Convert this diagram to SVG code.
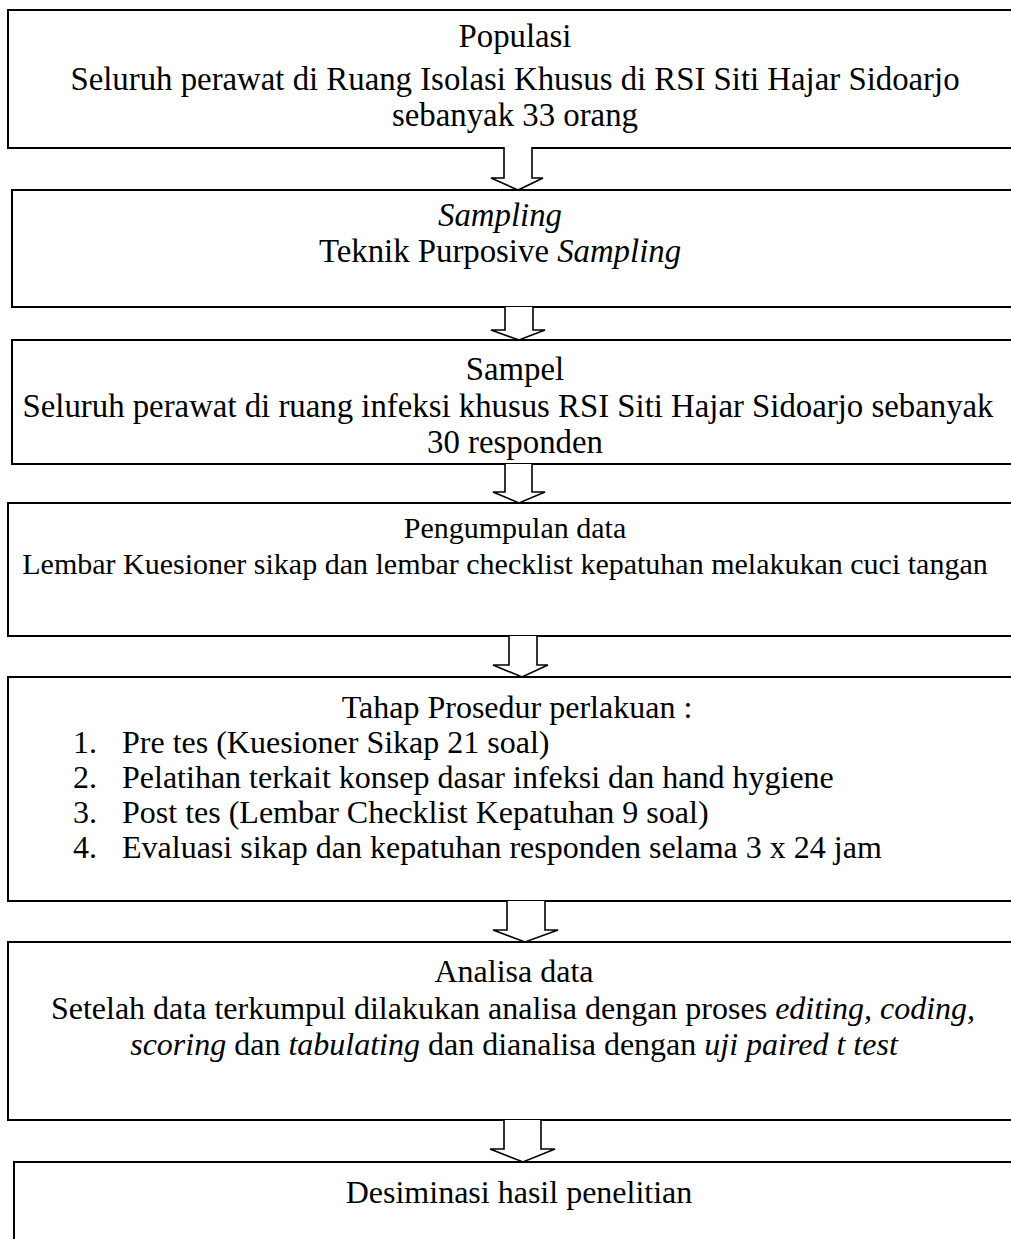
<svg xmlns="http://www.w3.org/2000/svg" width="1011" height="1239" viewBox="0 0 1011 1239">
<style>
.box{fill:#fff;stroke:#000;stroke-width:2}
.arr{fill:#fff;stroke:#000;stroke-width:1.6;stroke-linejoin:miter}
text{font-family:"Liberation Serif","Times New Roman",serif;font-size:32px;fill:#000}
.c{text-anchor:middle}
.s{font-size:30px}
.b{font-size:32.8px}
.i{font-style:italic}
</style>
<rect x="0" y="0" width="1011" height="1239" fill="#fff"/>
<g id="n1"><rect class="box" x="8" y="10" width="1020" height="138"/>
<text class="c b" x="515" y="47">Populasi</text>
<text class="c b" x="515" y="90">Seluruh perawat di Ruang Isolasi Khusus di RSI Siti Hajar Sidoarjo</text>
<text class="c b" x="515" y="126">sebanyak 33 orang</text></g>
<g id="n2"><rect class="box" x="12" y="190" width="1020" height="117"/>
<text class="c i b" x="500" y="226">Sampling</text>
<text class="c b" x="500" y="262">Teknik Purposive <tspan class="i">Sampling</tspan></text></g>
<g id="n3"><rect class="box" x="12" y="340" width="1020" height="124"/>
<text class="c b" x="515" y="380">Sampel</text>
<text class="c b" x="508" y="417">Seluruh perawat di ruang infeksi khusus RSI Siti Hajar Sidoarjo sebanyak</text>
<text class="c b" x="515" y="453">30 responden</text></g>
<g id="n4"><rect class="box" x="8" y="503" width="1020" height="133"/>
<text class="c s" x="515" y="538">Pengumpulan data</text>
<text class="c s" x="505" y="574">Lembar Kuesioner sikap dan lembar checklist kepatuhan melakukan cuci tangan</text></g>
<g id="n5"><rect class="box" x="8" y="677" width="1020" height="224"/>
<text class="c" x="517" y="718">Tahap Prosedur perlakuan :</text>
<text x="73" y="753">1.</text><text x="122" y="753">Pre tes (Kuesioner Sikap 21 soal)</text>
<text x="73" y="788">2.</text><text x="122" y="788">Pelatihan terkait konsep dasar infeksi dan hand hygiene</text>
<text x="73" y="823">3.</text><text x="122" y="823">Post tes (Lembar Checklist Kepatuhan 9 soal)</text>
<text x="73" y="858">4.</text><text x="122" y="858">Evaluasi sikap dan kepatuhan responden selama 3 x 24 jam</text></g>
<g id="n6"><rect class="box" x="8" y="942" width="1020" height="178"/>
<text class="c" x="514" y="982">Analisa data</text>
<text class="c" x="513" y="1019">Setelah data terkumpul dilakukan analisa dengan proses <tspan class="i">editing, coding,</tspan></text>
<text class="c" x="514" y="1055"><tspan class="i">scoring</tspan> dan <tspan class="i">tabulating</tspan><tspan dx="8">dan dianalisa dengan </tspan><tspan class="i">uji paired t test</tspan></text></g>
<g id="n7"><rect class="box" x="14" y="1162" width="1020" height="120"/>
<text class="c" x="519" y="1203">Desiminasi hasil penelitian</text></g>
<g id="connectors">
<path class="arr" d="M504 147 V178 H491 L518 190 L543 178 H532 V147"/>
<path class="arr" d="M505 307 V330 H491 L519 340 L545 330 H533 V307"/>
<path class="arr" d="M505 464 V492 H493 L519 503 L545 492 H532 V464"/>
<path class="arr" d="M509 636 V665 H493 L522 677 L548 665 H537 V636"/>
<path class="arr" d="M507 901 V930 H493 L525 942 L558 930 H545 V901"/>
<path class="arr" d="M504 1120 V1149 H490 L523 1162 L555 1149 H541 V1120"/>
</g>
</svg>
